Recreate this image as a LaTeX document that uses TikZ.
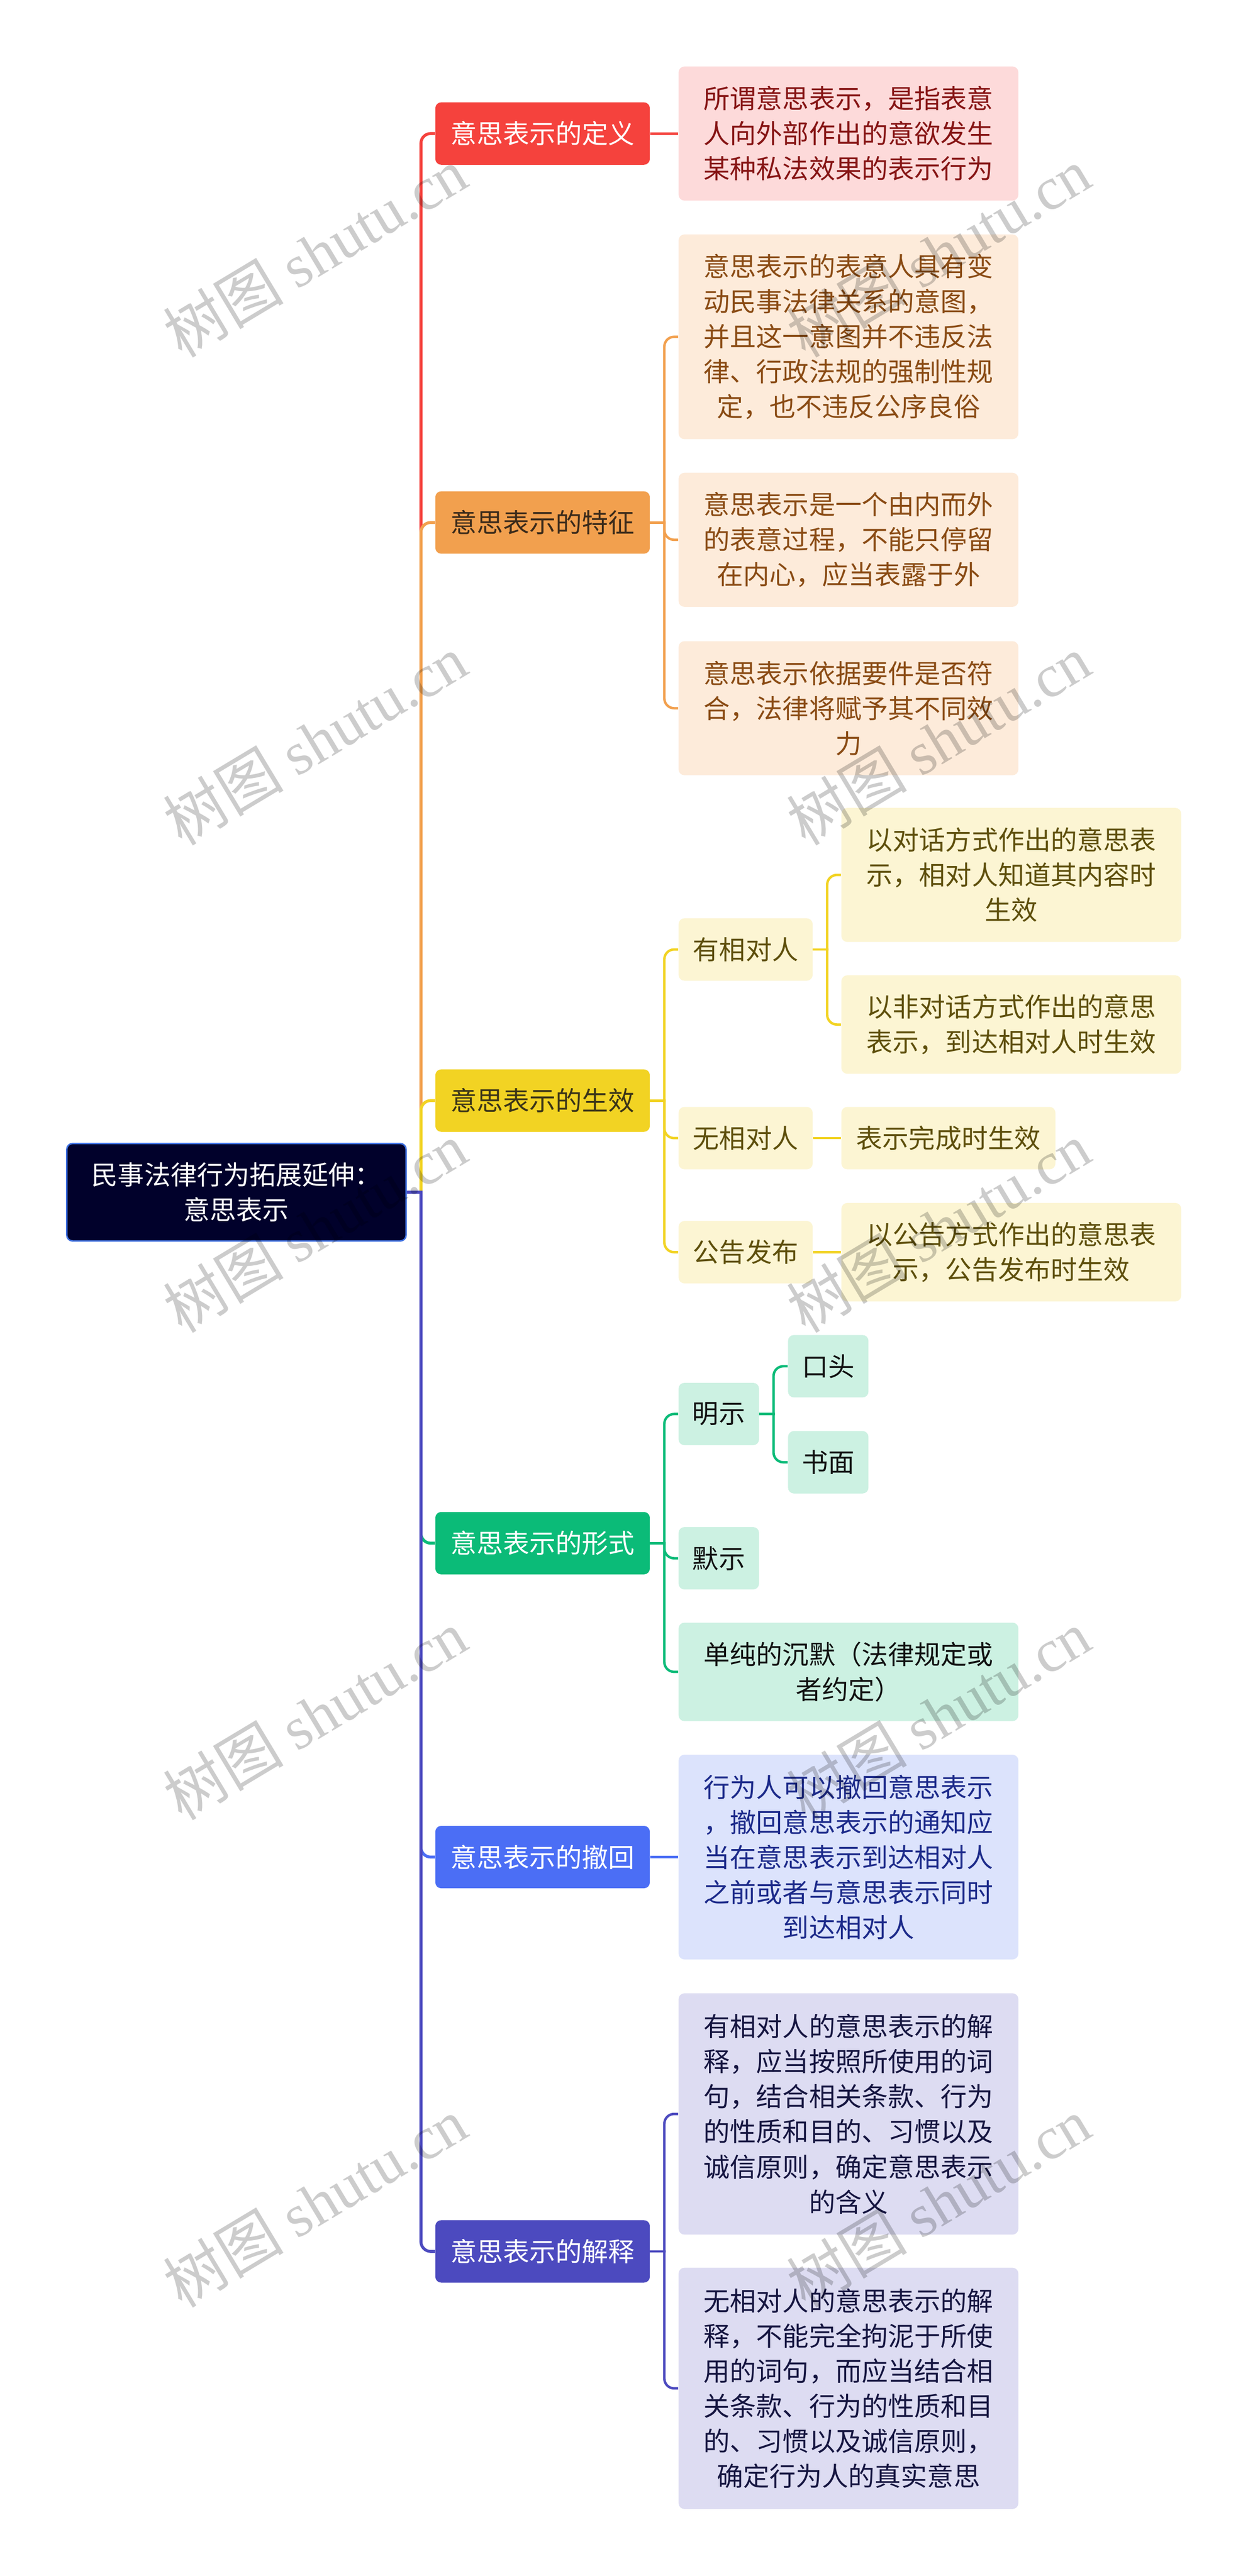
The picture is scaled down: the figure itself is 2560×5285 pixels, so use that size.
\documentclass[tikz,border=0pt]{standalone}
\usepackage{fontspec}
\setmainfont{Noto Sans CJK SC}
\newfontfamily\wmlatin{Liberation Serif}
\usetikzlibrary{calc}
\pgfdeclarelayer{background}
\pgfdeclarelayer{foreground}
\pgfsetlayers{background,main,foreground}

\definecolor{cRed}{HTML}{F5423D}
\definecolor{cRedBg}{HTML}{FDDADA}
\definecolor{cRedTx}{HTML}{861414}
\definecolor{cOra}{HTML}{F2A04E}
\definecolor{cOraBg}{HTML}{FDEBDA}
\definecolor{cOraTx}{HTML}{8A4B14}
\definecolor{cOraHd}{HTML}{3A2A1A}
\definecolor{cYel}{HTML}{F2D323}
\definecolor{cYelBg}{HTML}{FCF5D3}
\definecolor{cYelTx}{HTML}{5E4F0C}
\definecolor{cYelHd}{HTML}{3A3418}
\definecolor{cGrn}{HTML}{0BBB78}
\definecolor{cGrnBg}{HTML}{CCF1E2}
\definecolor{cGrnTx}{HTML}{111111}
\definecolor{cBlu}{HTML}{4B6EF5}
\definecolor{cBluBg}{HTML}{DCE3FC}
\definecolor{cBluTx}{HTML}{1C2A8A}
\definecolor{cInd}{HTML}{4C4ABF}
\definecolor{cIndBg}{HTML}{DDDCF2}
\definecolor{cIndTx}{HTML}{151540}
\definecolor{cRoot}{HTML}{01012B}
\definecolor{cRootBd}{HTML}{3D6FE0}

\begin{document}
\begin{tikzpicture}[x=0.25pt,y=-0.25pt,
  mmbox/.style={rounded corners=3pt, inner sep=0pt, align=center, font=\fontsize{13.5pt}{18pt}\selectfont},
  hOne/.style={minimum height=32pt},
  hTwo/.style={minimum height=50.5pt},
  hThree/.style={minimum height=68.75pt},
  hFive/.style={minimum height=105pt},
  hSix/.style={minimum height=123.75pt},
  wTop/.style={minimum width=110pt},
  wWide/.style={minimum width=174.25pt},
  wMid/.style={minimum width=68.75pt},
  wSmall/.style={minimum width=41.25pt},
  wShort/.style={minimum width=109.75pt},
  topic/.style={mmbox, wTop, hOne},
  rootbox/.style={mmbox, fill=cRoot, draw=cRootBd, line width=0.75pt, text=white, minimum width=174pt, minimum height=50pt},
  link/.style={line width=1.5pt, rounded corners=5pt},
  sublink/.style={line width=1.25pt, rounded corners=5pt},
  wm/.style={rotate=31, text=black, text opacity=0.2, font=\fontsize{31pt}{31pt}\selectfont, inner sep=0pt}
]
\useasboundingbox (0,0) rectangle (2560,5285);
\begin{pgfonlayer}{background}
\fill[white] (0,0) rectangle (2560,5285);
\end{pgfonlayer}

% root
\node[rootbox] (root) at (485,2446) {民事法律行为拓展延伸：\\意思表示};

% level 1
\node[topic, fill=cRed, text=white]   (def)  at (1113,274)  {意思表示的定义};
\node[topic, fill=cOra, text=cOraHd]  (feat) at (1113,1072) {意思表示的特征};
\node[topic, fill=cYel, text=cYelHd]  (eff)  at (1113,2258) {意思表示的生效};
\node[topic, fill=cGrn, text=white]   (form) at (1113,3166) {意思表示的形式};
\node[topic, fill=cBlu, text=white]   (wdr)  at (1113,3810) {意思表示的撤回};
\node[topic, fill=cInd, text=white]   (intp) at (1113,4619) {意思表示的解释};

% definition
\node[mmbox, wWide, hThree, fill=cRedBg, text=cRedTx] (defc) at (1740.5,274) {所谓意思表示，是指表意\\人向外部作出的意欲发生\\某种私法效果的表示行为};

% features
\node[mmbox, wWide, hFive, fill=cOraBg, text=cOraTx] (feata) at (1740.5,691) {意思表示的表意人具有变\\动民事法律关系的意图，\\并且这一意图并不违反法\\律、行政法规的强制性规\\定，也不违反公序良俗};
\node[mmbox, wWide, hThree, fill=cOraBg, text=cOraTx] (featb) at (1740.5,1107.5) {意思表示是一个由内而外\\的表意过程，不能只停留\\在内心，应当表露于外};
\node[mmbox, wWide, hThree, fill=cOraBg, text=cOraTx] (featc) at (1740.5,1453) {意思表示依据要件是否符\\合，法律将赋予其不同效\\力};

% effect
\node[mmbox, wMid, hOne, fill=cYelBg, text=cYelTx] (effa) at (1529.5,1948) {有相对人};
\node[mmbox, wMid, hOne, fill=cYelBg, text=cYelTx] (effb) at (1529.5,2335) {无相对人};
\node[mmbox, wMid, hOne, fill=cYelBg, text=cYelTx] (effc) at (1529.5,2569) {公告发布};
\node[mmbox, wWide, hThree, fill=cYelBg, text=cYelTx] (effaa) at (2074.5,1795) {以对话方式作出的意思表\\示，相对人知道其内容时\\生效};
\node[mmbox, wWide, hTwo, fill=cYelBg, text=cYelTx] (effab) at (2074.5,2102) {以非对话方式作出的意思\\表示，到达相对人时生效};
\node[mmbox, wShort, hOne, fill=cYelBg, text=cYelTx] (effba) at (1945.5,2335) {表示完成时生效};
\node[mmbox, wWide, hTwo, fill=cYelBg, text=cYelTx] (effca) at (2074.5,2569) {以公告方式作出的意思表\\示，公告发布时生效};

% form
\node[mmbox, wSmall, hOne, fill=cGrnBg, text=cGrnTx] (forma) at (1474.5,2901) {明示};
\node[mmbox, wSmall, hOne, fill=cGrnBg, text=cGrnTx] (formaa) at (1699,2803) {口头};
\node[mmbox, wSmall, hOne, fill=cGrnBg, text=cGrnTx] (formab) at (1699,3000) {书面};
\node[mmbox, wSmall, hOne, fill=cGrnBg, text=cGrnTx] (formb) at (1474.5,3197) {默示};
\node[mmbox, wWide, hTwo, fill=cGrnBg, text=cGrnTx] (formc) at (1740.5,3430) {单纯的沉默（法律规定或\\者约定）};

% withdraw
\node[mmbox, wWide, hFive, fill=cBluBg, text=cBluTx] (wdrc) at (1740.5,3810) {行为人可以撤回意思表示\\，撤回意思表示的通知应\\当在意思表示到达相对人\\之前或者与意思表示同时\\到达相对人};

% interpretation
\node[mmbox, wWide, hSix, fill=cIndBg, text=cIndTx] (intpa) at (1740.5,4337) {有相对人的意思表示的解\\释，应当按照所使用的词\\句，结合相关条款、行为\\的性质和目的、习惯以及\\诚信原则，确定意思表示\\的含义};
\node[mmbox, wWide, hSix, fill=cIndBg, text=cIndTx] (intpb) at (1740.5,4900) {无相对人的意思表示的解\\释，不能完全拘泥于所使\\用的词句，而应当结合相\\关条款、行为的性质和目\\的、习惯以及诚信原则，\\确定行为人的真实意思};

% connectors
\begin{pgfonlayer}{background}
\coordinate (rj) at ($(root.east)+(29,0)$);
\foreach \n/\c in {def/cRed, feat/cOra, eff/cYel, form/cGrn, wdr/cBlu, intp/cInd}
  \draw[link, draw=\c] (rj) |- (\n.west);
\draw[line width=1.5pt, draw=cInd, line cap=rect] (root.east) -- (rj);

\draw[sublink, draw=cRed] (def.east) -- (defc.west);

\coordinate (featj) at ($(feat.east)+(29,0)$);
\draw[sublink, draw=cOra, line cap=rect] (feat.east) -- (featj);
\foreach \k in {feata,featb,featc} \draw[sublink, draw=cOra] (featj) |- (\k.west);

\coordinate (effj) at ($(eff.east)+(29,0)$);
\draw[sublink, draw=cYel, line cap=rect] (eff.east) -- (effj);
\foreach \k in {effa,effb,effc} \draw[sublink, draw=cYel] (effj) |- (\k.west);
\coordinate (effaj) at ($(effa.east)+(29,0)$);
\draw[sublink, draw=cYel, line cap=rect] (effa.east) -- (effaj);
\foreach \k in {effaa,effab} \draw[sublink, draw=cYel] (effaj) |- (\k.west);
\draw[sublink, draw=cYel] (effb.east) -- (effba.west);
\draw[sublink, draw=cYel] (effc.east) -- (effca.west);

\coordinate (formj) at ($(form.east)+(29,0)$);
\draw[sublink, draw=cGrn, line cap=rect] (form.east) -- (formj);
\foreach \k in {forma,formb,formc} \draw[sublink, draw=cGrn] (formj) |- (\k.west);
\coordinate (formaj) at ($(forma.east)+(29,0)$);
\draw[sublink, draw=cGrn, line cap=rect] (forma.east) -- (formaj);
\foreach \k in {formaa,formab} \draw[sublink, draw=cGrn] (formaj) |- (\k.west);

\draw[sublink, draw=cBlu] (wdr.east) -- (wdrc.west);

\coordinate (intpj) at ($(intp.east)+(29,0)$);
\draw[sublink, draw=cInd, line cap=rect] (intp.east) -- (intpj);
\foreach \k in {intpa,intpb} \draw[sublink, draw=cInd] (intpj) |- (\k.west);
\end{pgfonlayer}

% watermarks
\begin{pgfonlayer}{foreground}
\foreach \yy [count=\i] in {518,1518,2518,3518,4518} {
  \node[wm] (wml\i) at (646,\yy) {树图 {\wmlatin shutu.cn}};
  \node[wm] (wmr\i) at (1925,\yy) {树图 {\wmlatin shutu.cn}};
}
\end{pgfonlayer}
\end{tikzpicture}
\end{document}
